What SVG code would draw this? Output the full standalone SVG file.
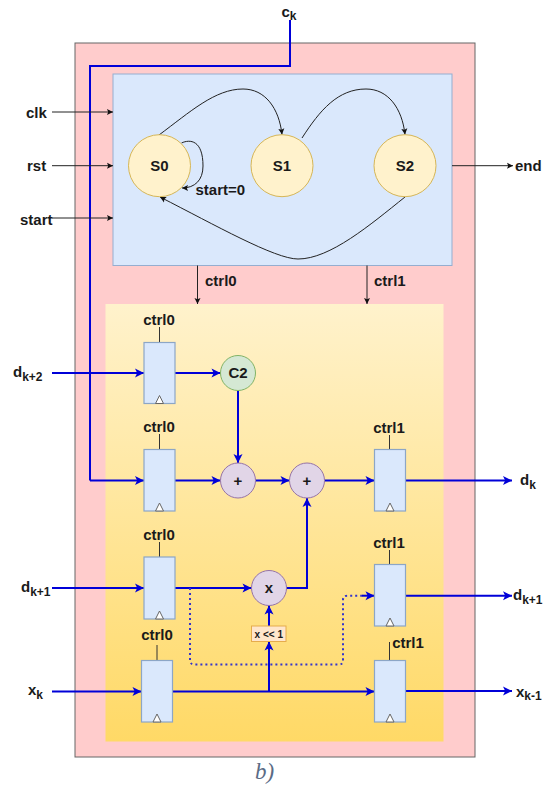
<svg xmlns="http://www.w3.org/2000/svg" width="549" height="785" viewBox="0 0 549 785">
<style>
text{font-family:"Liberation Sans",Arial,sans-serif;font-size:15px;font-weight:bold;fill:#1a1a1a}
.m{text-anchor:middle}
.sub{font-size:12px}
.reg{fill:#dae8fc;stroke:#8ca6c6;stroke-width:1.2}
.tri{fill:#fff;stroke:#666;stroke-width:1}
.tick{stroke:#333;stroke-width:1;fill:none}
.k{stroke:#222;stroke-width:1;fill:none;marker-end:url(#ka)}
.b{stroke:#0000d8;stroke-width:2;fill:none;marker-end:url(#ba)}
.bn{stroke:#0000d8;stroke-width:2;fill:none}
.d{stroke:#3333cc;stroke-width:2;stroke-dasharray:2 3;fill:none}
.st{fill:#fff2cc;stroke:#d6b656;stroke-width:1}
.op{fill:#e1d5e7;stroke:#9673a6;stroke-width:1}
</style>
<defs>
<linearGradient id="yg" x1="0" y1="0" x2="0" y2="1"><stop offset="0" stop-color="#fff2cc"/><stop offset="1" stop-color="#ffd966"/></linearGradient>
<marker id="ba" markerUnits="userSpaceOnUse" markerWidth="12" markerHeight="12" refX="10" refY="6" orient="auto"><path d="M1 1.500L10 6L1 10.500L3.200 6Z" fill="#0000d8"/></marker>
<marker id="ka" markerUnits="userSpaceOnUse" markerWidth="8" markerHeight="8" refX="7" refY="4" orient="auto"><path d="M1 1L7 4L1 7L2.200 4Z" fill="#111"/></marker>
</defs>
<g id="outer"><rect x="75" y="43" width="400" height="714" fill="#ffcccc" stroke="#666" stroke-width="1"/></g>
<g id="fsm"><rect x="113" y="74" width="339" height="191.500" fill="#dae8fc" stroke="#95aed0" stroke-width="1"/></g>
<g id="datapath"><rect x="105.500" y="304" width="338" height="437.500" fill="url(#yg)"/></g>
<g id="connectors">
<path class="bn" d="M290 20V66H90V480.500"/>
<path class="b" d="M90 480.500H144"/>
<path class="k" d="M52 112H113"/>
<path class="k" d="M52 165.700H113"/>
<path class="k" d="M52 218H113"/>
<path class="k" d="M452 165.700H513"/>
<path class="k" d="M197.500 265.500V304"/>
<path class="k" d="M367 265.500V304"/>
<path class="k" d="M159 135C190 112 215 89 243 89C265 89 279 108 282 134.500"/>
<path class="k" d="M302 138C320 110 338 89 366 89C388 89 402 108 405 134.500"/>
<path class="k" d="M405 197C370 225 330 259 298 259C275 259 215 225 160 197"/>
<path class="k" d="M181.500 143C190 139 203 140 203 166C203 180 195 188 182 188"/>
<path class="b" d="M52 373H144"/>
<path class="b" d="M175 373H220.500"/>
<path class="b" d="M238 390.500V463"/>
<path class="b" d="M175 480.500H220.500"/>
<path class="b" d="M255.500 480.500H289.500"/>
<path class="b" d="M324.500 480.500H374.500"/>
<path class="b" d="M405.500 480.500H512"/>
<path class="b" d="M52 588H144"/>
<path class="b" d="M175 588H251.500"/>
<path class="b" d="M286.500 588H307V498"/>
<path class="d" d="M190 588V660Q190 664.500 194.500 664.500H339Q343 664.500 343 660V600Q343 595.700 347.500 595.700H364"/>
<path class="b" d="M362 595.700H374.500"/>
<path class="b" d="M405.500 595.700H512"/>
<path class="b" d="M52 691.500H141.500"/>
<path class="b" d="M172.500 691.500H374.500"/>
<path class="b" d="M269 691.500V641.500"/>
<path class="b" d="M269 626V605.500"/>
<path class="b" d="M405.500 691H512"/>
<path class="tick" d="M159.500 327V342.500M159.500 434V449.500M159.500 542V557M157 645V660.500M389.500 435V449.500M389.500 550V564.500M389.500 642V660.500"/>
</g>
<g id="S0"><circle class="st" cx="159.500" cy="165.700" r="31"/><text class="m" x="159.500" y="171">S0</text></g>
<g id="S1"><circle class="st" cx="282" cy="165.700" r="31"/><text class="m" x="282" y="171">S1</text></g>
<g id="S2"><circle class="st" cx="405" cy="165.700" r="31"/><text class="m" x="405" y="171">S2</text></g>
<g id="reg1"><rect class="reg" x="144" y="342.500" width="31" height="61"/><path class="tri" d="M159.500 395.500L163.500 403.500H155.500Z"/><text class="m" x="159" y="325">ctrl0</text></g>
<g id="reg2"><rect class="reg" x="144" y="449.500" width="31" height="61.500"/><path class="tri" d="M159.500 503L163.500 511H155.500Z"/><text class="m" x="159" y="432">ctrl0</text></g>
<g id="reg3"><rect class="reg" x="144" y="557" width="31" height="62"/><path class="tri" d="M159.500 611L163.500 619H155.500Z"/><text class="m" x="159" y="540">ctrl0</text></g>
<g id="reg4"><rect class="reg" x="141.500" y="660.500" width="31" height="61.500"/><path class="tri" d="M157 714L161 722H153Z"/><text class="m" x="157" y="640">ctrl0</text></g>
<g id="reg5"><rect class="reg" x="374.500" y="449.500" width="31" height="61.500"/><path class="tri" d="M390 503L394 511H386Z"/><text class="m" x="389" y="433">ctrl1</text></g>
<g id="reg6"><rect class="reg" x="374.500" y="564.500" width="31" height="61.500"/><path class="tri" d="M390 618L394 626H386Z"/><text class="m" x="389" y="548">ctrl1</text></g>
<g id="reg7"><rect class="reg" x="374.500" y="660.500" width="31" height="61.500"/><path class="tri" d="M390 714L394 722H386Z"/><text class="m" x="408" y="648">ctrl1</text></g>
<g id="C2"><circle cx="238" cy="373" r="17.500" fill="#d5e8d4" stroke="#82b366"/><text class="m" x="238" y="378">C2</text></g>
<g id="add1"><circle class="op" cx="238" cy="480.500" r="17.500"/><text class="m" x="238" y="485.500">+</text></g>
<g id="add2"><circle class="op" cx="307" cy="480.500" r="17.500"/><text class="m" x="307" y="485.500">+</text></g>
<g id="mul"><circle class="op" cx="269" cy="588" r="17.500"/><text class="m" x="269" y="593">x</text></g>
<g id="shift"><rect x="251.500" y="626" width="34.500" height="15.500" fill="#ffe6cc" stroke="#e6ac4c"/><text class="m" x="268.800" y="637.500" style="font-size:10px">x &lt;&lt; 1</text></g>
<g id="labels">
<text x="281.500" y="17">c<tspan class="sub" dy="3">k</tspan></text>
<text x="26" y="118">clk</text>
<text x="27" y="171">rst</text>
<text x="20" y="225">start</text>
<text x="515" y="171">end</text>
<text x="195.500" y="195">start=0</text>
<text x="205" y="286">ctrl0</text>
<text x="374" y="286">ctrl1</text>
<text x="13" y="377">d<tspan class="sub" dy="4">k+2</tspan></text>
<text x="21" y="592">d<tspan class="sub" dy="4">k+1</tspan></text>
<text x="28" y="695">x<tspan class="sub" dy="4">k</tspan></text>
<text x="520" y="485">d<tspan class="sub" dy="4">k</tspan></text>
<text x="513" y="600">d<tspan class="sub" dy="4">k+1</tspan></text>
<text x="516" y="697">x<tspan class="sub" dy="3">k-1</tspan></text>
<text x="255" y="779" style="font-family:'Liberation Serif',serif;font-style:italic;font-weight:normal;font-size:23px;fill:#5a6b85">b)</text>
</g>
</svg>
